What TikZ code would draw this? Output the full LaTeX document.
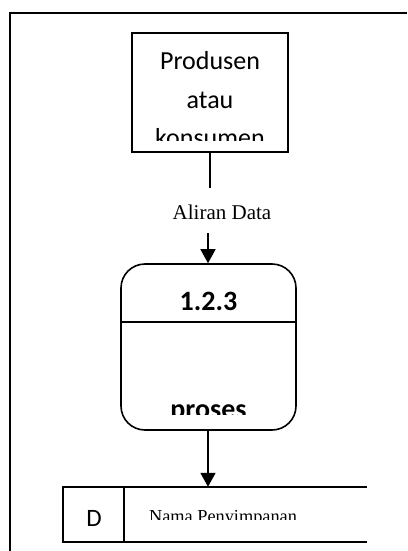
\documentclass[tikz,border=0pt]{standalone}
\usepackage{fontspec}
\setmainfont{Carlito}
\newfontfamily\tms{Liberation Serif}
\usetikzlibrary{arrows.meta}
\tikzset{
  ln/.style={line width=1.6pt},
  boxed/.style={draw, ln, inner sep=0pt},
  arr/.style={ln, -{Triangle[length=14pt,width=15pt]}},
  ent/.style={font=\fontsize{26}{26}\selectfont, anchor=base, inner sep=0pt},
  proc/.style={font=\bfseries\fontsize{28}{28}\selectfont, anchor=base, inner sep=0pt},
  serif/.style={anchor=base, inner sep=0pt}
}
\begin{document}
\begin{tikzpicture}[x=1pt,y=-1pt]
\useasboundingbox (0,0) rectangle (407,551);
% outer frame (open right/bottom)
\coordinate (f1) at (10,551);
\coordinate (f2) at (10,13);
\coordinate (f3) at (407,13);
\draw[ln] (f1) -- (f2) -- (f3);
% entity
\node[boxed, minimum width=156pt, minimum height=119pt] (entity) at (210,92.5) {};
\begin{scope}
\clip (132,33) rectangle (288,140);
\node[ent] (t1) at (210,70) {Produsen};
\node[ent] (t2) at (210,108) {atau};
\node[ent] (t3) at (210,146) {konsumen};
\end{scope}
% data flow
\coordinate (flowend) at (entity.south |- 0,188);
\draw[ln] (entity.south) -- (flowend);
\node[serif, font=\tms\fontsize{21}{21}\selectfont] (flowlbl) at (222,219) {Aliran Data};
\coordinate (arrstart) at (208,233);
% process
\node[boxed, rounded corners=24pt, minimum width=175pt, minimum height=166pt] (process) at (208.5,347) {};
\coordinate (dv) at (0,322);
\draw[ln] (process.west |- dv) -- (process.east |- dv);
\node[proc] (pid) at (208.5,310) {1.2.3};
\begin{scope}
\clip (121,322) rectangle (296,414);
\node[proc] (pname) at (208.5,418) {proses};
\end{scope}
\draw[arr] (arrstart) -- (arrstart |- process.north);
% data store
\node[inner sep=0pt, minimum width=304pt, minimum height=55pt] (store) at (215,514.5) {};
\draw[ln] (store.north east) -- (store.north west) -- (store.south west) -- (store.south east);
\coordinate (sd) at (124,0);
\draw[ln] (sd |- store.north) -- (sd |- store.south);
\node[ent, font=\fontsize{25}{25}\selectfont] (sid) at (94,526) {D};
\begin{scope}
\clip (124,487) rectangle (367,519);
\node[serif, font=\tms\fontsize{18.3}{18.3}\selectfont] (sname) at (223,522) {Nama Penyimpanan};
\end{scope}
\draw[arr] (process.south -| arrstart) -- (arrstart |- store.north);
\end{tikzpicture}
\end{document}
